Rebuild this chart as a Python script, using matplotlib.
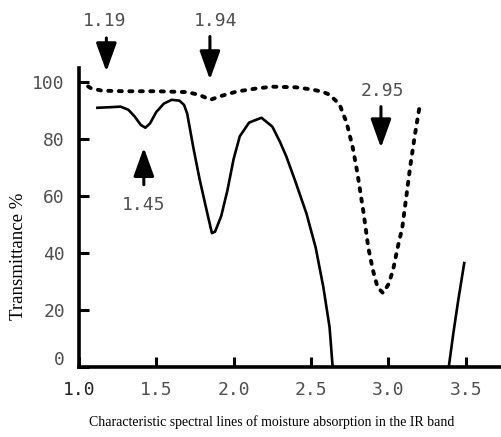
import matplotlib
matplotlib.use("Agg")
import matplotlib.pyplot as plt
from matplotlib.transforms import ScaledTranslation

# solid curve (main part and the short tail on the right)
solid_x = [1.12, 1.20, 1.27, 1.32, 1.36, 1.40, 1.43, 1.46, 1.50, 1.55, 1.60, 1.65,
           1.68, 1.70, 1.72, 1.74, 1.78, 1.83, 1.86, 1.88, 1.92, 1.96, 2.00, 2.04,
           2.10, 2.18, 2.25, 2.30, 2.34, 2.40, 2.47, 2.53, 2.58, 2.62, 2.64]
solid_y = [91.0, 91.2, 91.4, 90.3, 88.0, 85.0, 84.0, 85.5, 89.5, 92.5, 93.8, 93.5,
           92.0, 89.0, 83.0, 77.0, 66.0, 54.0, 47.0, 47.5, 53.0, 62.0, 73.0, 81.0,
           85.8, 87.5, 84.4, 79.0, 74.0, 65.0, 54.0, 42.0, 28.0, 14.0, 0.0]
tail_x = [3.39, 3.42, 3.45, 3.49]
tail_y = [0.0, 12.0, 23.0, 36.5]

# dotted curve
dot_x = [1.06, 1.08, 1.15, 1.30, 1.50, 1.70, 1.78, 1.85, 1.91, 2.02, 2.15, 2.25,
         2.40, 2.51, 2.58, 2.62, 2.66, 2.69, 2.73, 2.77, 2.80, 2.84, 2.87, 2.90,
         2.93, 2.965, 3.00, 3.03, 3.06, 3.09, 3.14, 3.17, 3.20]
dot_y = [98.5, 97.8, 97.0, 96.8, 96.8, 96.5, 95.5, 93.8, 95.0, 96.7, 97.8, 98.4,
         98.2, 97.4, 96.5, 95.6, 93.5, 91.4, 85.8, 77.0, 68.0, 54.0, 42.0, 34.0,
         28.0, 26.0, 29.0, 34.0, 42.0, 49.0, 70.0, 81.0, 91.0]

# arrow annotations: label, label pos, arrow tail, arrow tip
peak_labels = ["1.19", "1.94", "2.95", "1.45"]
label_pos = [(1.168, 121.4), (1.886, 121.4), (2.959, 97.0), (1.417, 56.9)]
arrow_tail = [(1.178, 115.5), (1.847, 116.0), (2.952, 91.4), (1.42, 64.0)]
arrow_tip = [(1.178, 103.7), (1.847, 100.9), (2.952, 77.0), (1.42, 77.0)]

xticks = [1.0, 1.5, 2.0, 2.5, 3.0, 3.5]
yticks = [0, 20, 40, 60, 80, 100]

mono = "DejaVu Sans Mono"
grey = "#505050"

fig = plt.figure(figsize=(5.02, 4.37), dpi=100)
ax = fig.add_axes([0.157, 0.160, 0.843, 0.684])

ax.plot(solid_x, solid_y, color="black", lw=1.9)
ax.plot(tail_x, tail_y, color="black", lw=1.9)
ax.plot(dot_x, dot_y, color="black", lw=2.8, linestyle=(0, (0.8, 1.9)),
        dash_capstyle="round")

ax.set_xlim(1.0, 3.734)
ax.set_ylim(0, 104.9)

for s in ["top", "right"]:
    ax.spines[s].set_visible(False)
for s in ["left", "bottom"]:
    ax.spines[s].set_linewidth(2.6)

ax.set_xticks(xticks)
ax.set_xticklabels(["%.1f" % v for v in xticks])
ax.set_yticks(yticks)
ax.tick_params(direction="in", length=7, width=2.2, colors="black",
               labelcolor=grey, labelsize=13, pad=10)
for lab in ax.get_xticklabels() + ax.get_yticklabels():
    lab.set_fontfamily(mono)
ax.get_xticklabels()[0].set_color("#222222")
# the "0" label sits a bit above the axis line
zero = ax.get_yticklabels()[0]
zero.set_transform(zero.get_transform() + ScaledTranslation(0, 0.09, fig.dpi_scale_trans))

ax.set_ylabel("Transmittance %", fontfamily="Liberation Serif", fontsize=13.5)
ax.yaxis.set_label_coords(-0.123, 0.37)

for text, pos, tail, tip in zip(peak_labels, label_pos, arrow_tail, arrow_tip):
    ax.text(pos[0], pos[1], text, ha="center", va="center", fontfamily=mono,
            fontsize=13, color=grey, clip_on=False)
    ax.annotate("", xy=tip, xytext=tail, annotation_clip=False,
                arrowprops=dict(arrowstyle="-|>,head_length=1.25,head_width=0.45",
                                mutation_scale=14, color="black", lw=2.2,
                                shrinkA=0, shrinkB=0))

fig.text(0.542, 0.034, "Characteristic spectral lines of moisture absorption in the IR band",
         ha="center", va="center", fontfamily="Liberation Serif", fontsize=10)

fig.savefig("out.png", dpi=100)
